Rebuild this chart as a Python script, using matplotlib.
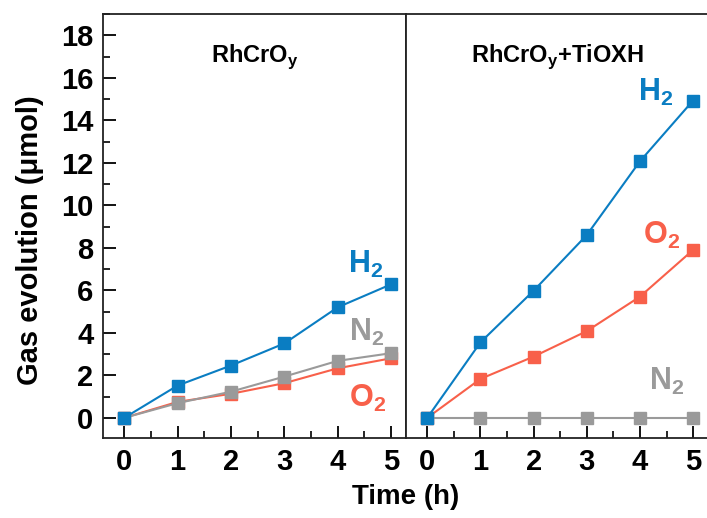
import matplotlib
matplotlib.use("Agg")
import matplotlib.pyplot as plt
from matplotlib.ticker import MultipleLocator

plt.rcParams['font.family'] = ['Liberation Sans', 'DejaVu Sans']
plt.rcParams['font.weight'] = 'bold'
plt.rcParams['mathtext.fontset'] = 'custom'
plt.rcParams['mathtext.rm'] = 'Liberation Sans:bold'
plt.rcParams['mathtext.bf'] = 'Liberation Sans:bold'

hours = [0, 1, 2, 3, 4, 5]

# RhCrOy alone
h2_a = [0, 1.52, 2.46, 3.5, 5.2, 6.28]
o2_a = [0, 0.75, 1.13, 1.63, 2.33, 2.8]
n2_a = [0, 0.69, 1.23, 1.94, 2.68, 3.04]

# RhCrOy + TiOXH
h2_b = [0, 3.55, 5.98, 8.6, 12.07, 14.93]
o2_b = [0, 1.83, 2.88, 4.08, 5.7, 7.9]
n2_b = [0, 0, 0, 0, 0, 0]

blue = '#0A7DC2'
red = '#F8604A'
gray = '#9A9A9A'

fig = plt.figure(figsize=(7.07, 5.18), dpi=100)
ax1 = fig.add_axes([103 / 707, 1 - 438 / 518, 303 / 707, 424 / 518])
ax2 = fig.add_axes([406 / 707, 1 - 438 / 518, 302 / 707, 424 / 518])

def draw(ax, h2, o2, n2):
    kw = dict(marker='s', markersize=9, lw=1.5)
    ax.plot(hours, o2, color=red, **kw)
    ax.plot(hours, n2, color=gray, **kw)
    ax.plot(hours, h2, color=blue, **kw)
    ax.set_xlim(-0.4, 5.28)
    ax.set_ylim(-0.95, 19)
    ax.xaxis.set_major_locator(MultipleLocator(1))
    ax.xaxis.set_minor_locator(MultipleLocator(0.5))
    ax.yaxis.set_major_locator(MultipleLocator(2))
    ax.yaxis.set_minor_locator(MultipleLocator(1))
    ax.tick_params(which='major', direction='in', length=9, width=1.3, labelsize=21, pad=7)
    ax.tick_params(which='minor', direction='in', length=5, width=1.2)
    for s in ax.spines.values():
        s.set_linewidth(1.3)
        s.set_color('#222222')

draw(ax1, h2_a, o2_a, n2_a)
draw(ax2, h2_b, o2_b, n2_b)
ax2.tick_params(axis='y', which='both', left=False, labelleft=False)

ax1.set_ylabel('Gas evolution (μmol)', fontsize=21, fontweight='bold')
ax1.yaxis.set_label_coords(-0.195, 0.467)
fig.text(406 / 707, 1 - 497 / 518, 'Time (h)', fontsize=20, fontweight='bold', ha='center', va='center')

ax1.text(0.5, 0.9, r'RhCrO$_\mathrm{y}$', transform=ax1.transAxes, ha='center', va='center', fontsize=17)
ax2.text(0.5, 0.9, r'RhCrO$_\mathrm{y}$+TiOXH', transform=ax2.transAxes, ha='center', va='center', fontsize=17)

gas_fs = 22
ax1.text(4.52, 7.2, r'H$_\mathrm{2}$', color=blue, fontsize=gas_fs, ha='center', va='center')
ax1.text(4.55, 4.0, r'N$_\mathrm{2}$', color=gray, fontsize=gas_fs, ha='center', va='center')
ax1.text(4.55, 0.9, r'O$_\mathrm{2}$', color=red, fontsize=gas_fs, ha='center', va='center')
ax2.text(4.3, 15.3, r'H$_\mathrm{2}$', color=blue, fontsize=gas_fs, ha='center', va='center')
ax2.text(4.4, 8.6, r'O$_\mathrm{2}$', color=red, fontsize=gas_fs, ha='center', va='center')
ax2.text(4.5, 1.7, r'N$_\mathrm{2}$', color=gray, fontsize=gas_fs, ha='center', va='center')

fig.savefig('out.png', dpi=100)
